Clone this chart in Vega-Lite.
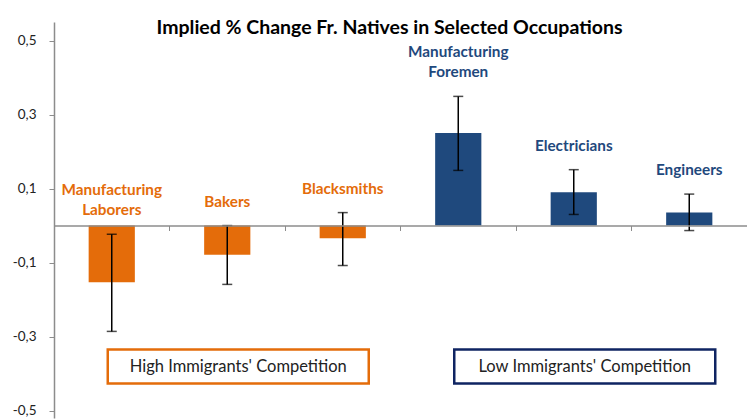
{
  "$schema": "https://vega.github.io/schema/vega-lite/v6.json",
  "autosize": {"type": "none"},
  "padding": {"left": 54, "top": 22, "right": 0, "bottom": 1},
  "width": 693,
  "height": 396,
  "background": "white",
  "config": {
    "view": {"stroke": null},
    "locale": {"number": {"decimal": ",", "thousands": ".", "grouping": [3], "currency": ["", " €"], "minus": "-"}},
    "font": "Lato"
  },
  "title": {
    "text": "Implied % Change Fr. Natives in Selected Occupations",
    "font": "Lato",
    "fontSize": 19.5,
    "fontWeight": "bold",
    "color": "#000000",
    "offset": -16,
    "dx": -11
  },
  "layer": [
    {
      "data": {
        "name": "main",
        "values": [
          {"occupation": "Manufacturing Laborers", "label": "Manufacturing\nLaborers", "group": "High", "value": -0.153, "lo": -0.286, "hi": -0.0235},
          {"occupation": "Bakers", "label": "\nBakers", "group": "High", "value": -0.079, "lo": -0.159, "hi": 0.0},
          {"occupation": "Blacksmiths", "label": "\nBlacksmiths", "group": "High", "value": -0.034, "lo": -0.108, "hi": 0.035},
          {"occupation": "Manufacturing Foremen", "label": "Manufacturing\nForemen", "group": "Low", "value": 0.25, "lo": 0.149, "hi": 0.349},
          {"occupation": "Electricians", "label": "\nElectricians", "group": "Low", "value": 0.09, "lo": 0.03, "hi": 0.151},
          {"occupation": "Engineers", "label": "\nEngineers", "group": "Low", "value": 0.035, "lo": -0.0135, "hi": 0.085}
        ]
      },
      "layer": [
        {
          "mark": {"type": "bar", "width": {"band": 0.4}},
          "encoding": {
            "x": {
              "field": "occupation", "type": "nominal",
              "scale": {"domain": ["Manufacturing Laborers", "Bakers", "Blacksmiths", "Manufacturing Foremen", "Electricians", "Engineers"], "paddingInner": 0, "paddingOuter": 0},
              "axis": {"orient": "bottom", "offset": -192.5, "labels": false, "title": null, "domainColor": "#8c8c8c", "domainWidth": 1.5, "tickColor": "#8c8c8c", "tickSize": 5, "tickWidth": 1, "bandPosition": 0, "zindex": 1}
            },
            "y": {
              "field": "value", "type": "quantitative",
              "scale": {"domain": [-0.52, 0.55], "nice": false, "zero": false},
              "axis": {"values": [-0.5, -0.3, -0.1, 0.1, 0.3, 0.5], "format": ".1f", "title": null, "grid": false, "domainColor": "#8c8c8c", "domainWidth": 1.5, "tickColor": "#8c8c8c", "tickSize": 5, "labelPadding": 13, "labelFontSize": 13.5, "labelFont": "Lato", "labelColor": "#222222"}
            },
            "color": {"field": "group", "type": "nominal", "scale": {"domain": ["High", "Low"], "range": ["#E46C0A", "#1F497D"]}, "legend": null}
          }
        },
        {
          "mark": {"type": "rule", "color": "#000000", "strokeWidth": 1.5},
          "encoding": {
            "x": {"field": "occupation", "type": "nominal"},
            "y": {"field": "lo", "type": "quantitative"},
            "y2": {"field": "hi"}
          }
        },
        {
          "mark": {"type": "tick", "color": "#000000", "size": 10, "thickness": 1.5},
          "encoding": {
            "x": {"field": "occupation", "type": "nominal"},
            "y": {"field": "lo", "type": "quantitative"}
          }
        },
        {
          "mark": {"type": "tick", "color": "#000000", "size": 10, "thickness": 1.5},
          "encoding": {
            "x": {"field": "occupation", "type": "nominal"},
            "y": {"field": "hi", "type": "quantitative"}
          }
        },
        {
          "mark": {"type": "text", "font": "Lato", "fontSize": 15.3, "fontWeight": "bold", "baseline": "bottom", "align": "center", "lineBreak": "\n", "lineHeight": 20, "dy": -36},
          "encoding": {
            "x": {"field": "occupation", "type": "nominal"},
            "y": {"field": "hi", "type": "quantitative"},
            "text": {"field": "label"},
            "color": {"field": "group", "type": "nominal", "legend": null}
          }
        }
      ]
    },
    {
      "data": {
        "values": [
          {"group": "High", "mid": "Bakers", "text": "High Immigrants' Competition"},
          {"group": "Low", "mid": "Electricians", "text": "Low Immigrants' Competition"}
        ]
      },
      "layer": [
        {
          "mark": {"type": "bar", "width": 261, "fill": "#ffffff", "strokeWidth": 2.5, "xOffset": 11},
          "encoding": {
            "x": {"field": "mid", "type": "nominal"},
            "y": {"datum": -0.335},
            "y2": {"datum": -0.427},
            "stroke": {"field": "group", "type": "nominal", "scale": {"domain": ["High", "Low"], "range": ["#E46C0A", "#0F2462"]}, "legend": null}
          }
        },
        {
          "mark": {"type": "text", "font": "Lato", "fontSize": 16.5, "color": "#222222", "align": "center", "baseline": "middle", "xOffset": 11},
          "encoding": {
            "x": {"field": "mid", "type": "nominal"},
            "y": {"datum": -0.381},
            "text": {"field": "text"}
          }
        }
      ]
    }
  ]
}
